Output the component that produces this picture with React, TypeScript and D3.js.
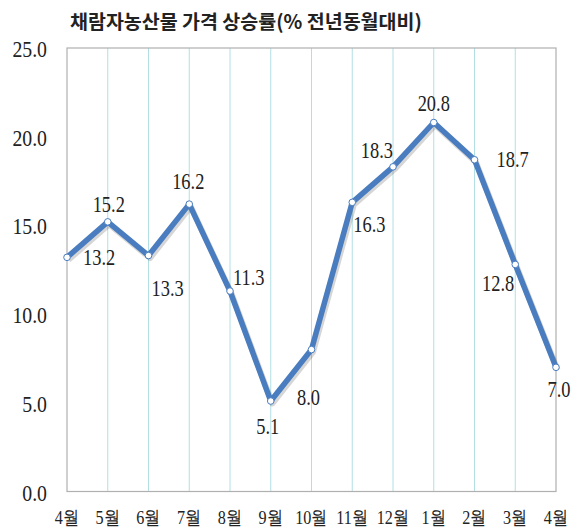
import { useEffect, useRef } from "react";
import * as d3 from "d3";

// months and values (% yoy)
const months = ["4월", "5월", "6월", "7월", "8월", "9월", "10월", "11월", "12월", "1월", "2월", "3월", "4월"];
const values = [13.2, 15.2, 13.3, 16.2, 11.3, 5.1, 8.0, 16.3, 18.3, 20.8, 18.7, 12.8, 7.0];
const yTicks = [0, 5, 10, 15, 20, 25];
// value label offset from its point: dx, dy, anchor
const labelOffsets: [number, number, string][] = [
  [16, 8, "start"], [1, -10, "middle"], [3, 40, "start"], [-1, -15, "middle"],
  [3, -6, "start"], [-3, 33, "middle"], [-3, 55, "middle"], [1, 30, "start"],
  [0, -9, "end"], [0, -12, "middle"], [22, 7, "start"], [-1, 27, "end"], [3, 30, "middle"],
];

const W = 575;
const H = 531;
const margin = { top: 48, right: 19, bottom: 39.5, left: 67 };

export default function App() {
  const ref = useRef<SVGSVGElement>(null);

  useEffect(() => {
    const svg = d3.select(ref.current);
    svg.selectAll("*").remove();

    const x = d3.scalePoint<number>()
      .domain(d3.range(months.length))
      .range([margin.left, W - margin.right]);
    const y = d3.scaleLinear().domain([0, 25]).range([H - margin.bottom, margin.top]);

    const serif = "'Liberation Serif', 'DejaVu Serif', serif";

    svg.append("text")
      .attr("x", 70).attr("y", 29)
      .attr("font-family", "'Noto Sans CJK KR', sans-serif")
      .attr("font-weight", "bold")
      .attr("font-size", 19.5)
      .attr("fill", "#222")
      .text("채람자농산물 가격 상승률(% 전년동월대비)");

    // vertical grid
    svg.append("g")
      .selectAll("line")
      .data(d3.range(1, months.length - 1))
      .enter()
      .append("line")
      .attr("x1", d => x(d)!).attr("x2", d => x(d)!)
      .attr("y1", y(25)).attr("y2", y(0))
      .attr("stroke", "#b2dfe3")
      .attr("stroke-width", 1);

    // frame
    svg.append("rect")
      .attr("x", margin.left).attr("y", y(25))
      .attr("width", x(months.length - 1)! - margin.left)
      .attr("height", y(0) - y(25))
      .attr("fill", "none")
      .attr("stroke", "#b0b0b0")
      .attr("stroke-width", 1.2);

    svg.append("g")
      .selectAll("text")
      .data(yTicks)
      .enter()
      .append("text")
      .attr("transform", d => `translate(47 ${y(d) + 9}) scale(0.86 1)`)
      .attr("text-anchor", "end")
      .attr("font-family", serif)
      .attr("font-size", 23)
      .attr("fill", "#222")
      .text(d => d.toFixed(1));

    svg.append("g")
      .selectAll("text")
      .data(months)
      .enter()
      .append("text")
      .attr("transform", (d, i) => `translate(${x(i)} 524) scale(0.85 1)`)
      .attr("text-anchor", "middle")
      .attr("font-family", serif)
      .attr("font-size", 19)
      .attr("fill", "#222")
      .text(d => d);

    const line = d3.line<number>()
      .x((d, i) => x(i)!)
      .y(d => y(d));

    // soft shadow
    svg.append("path")
      .attr("d", line(values))
      .attr("fill", "none")
      .attr("stroke", "rgba(0,0,0,0.16)")
      .attr("stroke-width", 6)
      .attr("stroke-linejoin", "round")
      .attr("transform", "translate(1.5 2.5)");

    svg.append("path")
      .attr("d", line(values))
      .attr("fill", "none")
      .attr("stroke", "#4a7dbf")
      .attr("stroke-width", 5.5)
      .attr("stroke-linejoin", "round");

    svg.append("g")
      .selectAll("circle")
      .data(values)
      .enter()
      .append("circle")
      .attr("cx", (d, i) => x(i)!)
      .attr("cy", d => y(d))
      .attr("r", 3.3)
      .attr("fill", "white")
      .attr("stroke", "#4a7dbf")
      .attr("stroke-width", 1);

    svg.append("g")
      .selectAll("text")
      .data(values)
      .enter()
      .append("text")
      .attr("transform", (d, i) =>
        `translate(${x(i)! + labelOffsets[i][0]} ${y(d) + labelOffsets[i][1]}) scale(0.8 1)`)
      .attr("text-anchor", (d, i) => labelOffsets[i][2])
      .attr("font-family", serif)
      .attr("font-size", 23)
      .attr("fill", "#222")
      .text(d => d.toFixed(1));
  }, []);

  return (
    <svg ref={ref} width={W} height={H} style={{ position: "absolute", left: 0, top: 0, background: "white" }} />
  );
}
